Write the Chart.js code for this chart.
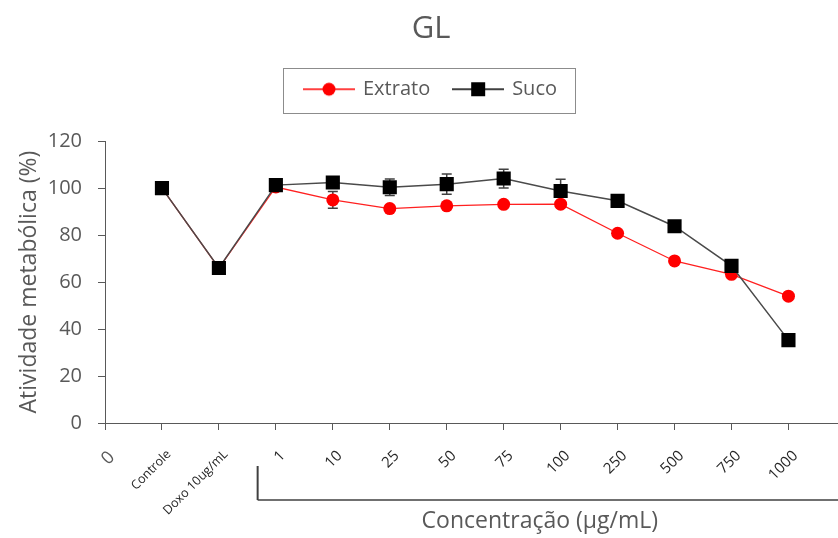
<!DOCTYPE html>
<html>
<head>
<meta charset="utf-8">
<script src="https://cdn.jsdelivr.net/npm/chart.js@4"></script>
<style>
  body { margin: 0; background: #fff; }
  #wrap { width: 838px; height: 538px; }
</style>
</head>
<body>
<div id="wrap"><canvas id="glChart" width="838" height="538"></canvas></div>
<script>
// categories on the x axis (position 1..12), position 0 is labelled "0"
var categories = ['Controle', 'Doxo 10ug/mL', '1', '10', '25', '50', '75', '100', '250', '500', '750', '1000'];
var extrato = [100, 66, 100.5, 95, 91.3, 92.5, 93.1, 93.2, 80.8, 69, 63.3, 54];
var extratoErr = [0, 0, 0, 3.6, 0, 0, 0, 0, 0, 0, 0, 0];
var suco = [100, 66, 101.3, 102.4, 100.4, 101.7, 104.1, 98.8, 94.6, 83.8, 66.9, 35.3];
var sucoErr = [0, 0, 0, 2, 3.5, 4.3, 4, 5, 0, 0, 0, 0];
var yTicks = [0, 20, 40, 60, 80, 100, 120];

var grey = '#595959';

function toPoints(vals) {
    var pts = [];
    for (var i = 0; i < vals.length; i++) {
        pts.push({x: i + 1, y: vals[i]});
    }
    return pts;
}

/** legend symbols: line with the marker in the middle **/
function legendSymbol(kind) {
    var c = document.createElement('canvas');
    c.width = 52; c.height = 16;
    var g = c.getContext('2d');
    g.strokeStyle = kind == 'circle' ? '#ff0000' : '#000000';
    g.lineWidth = 1.3;
    g.beginPath(); g.moveTo(0, 8); g.lineTo(52, 8); g.stroke();
    if (kind == 'circle') {
        g.fillStyle = '#ff0000';
        g.beginPath(); g.arc(26, 8, 6.5, 0, Math.PI * 2); g.fill();
    } else {
        g.fillStyle = '#000000';
        g.fillRect(19, 1, 14, 14);
    }
    return c;
}
var symbols = [legendSymbol('circle'), legendSymbol('rect')];
var errs = [extratoErr, sucoErr];

var extras = {
    id: 'extras',
    beforeDatasetsDraw: function(chart) {
        var ctx = chart.ctx;
        var ys = chart.scales.y;
        ctx.save();
        ctx.strokeStyle = '#404040';
        ctx.lineWidth = 1.5;
        for (var d = 0; d < chart.data.datasets.length; d++) {
            var meta = chart.getDatasetMeta(d);
            var vals = d == 0 ? extrato : suco;
            for (var i = 0; i < vals.length; i++) {
                var e = errs[d][i];
                if (!e) continue;
                var x = meta.data[i].x;
                var y1 = ys.getPixelForValue(vals[i] + e);
                var y2 = ys.getPixelForValue(vals[i] - e);
                ctx.beginPath();
                ctx.moveTo(x, y1); ctx.lineTo(x, y2);
                ctx.moveTo(x - 5, y1); ctx.lineTo(x + 5, y1);
                ctx.moveTo(x - 5, y2); ctx.lineTo(x + 5, y2);
                ctx.stroke();
            }
        }
        ctx.restore();
    },
    afterDraw: function(chart) {
        var ctx = chart.ctx;
        var xs = chart.scales.x;
        // box round the legend items
        var hb = chart.legend.legendHitBoxes;
        var l = 9999, r = 0, t = 9999, b = 0;
        hb.forEach(function(h) {
            l = Math.min(l, h.left); r = Math.max(r, h.left + h.width);
            t = Math.min(t, h.top); b = Math.max(b, h.top + h.height);
        });
        ctx.save();
        ctx.strokeStyle = '#8c8c8c';
        ctx.lineWidth = 1;
        ctx.strokeRect(Math.round(l - 22) + 0.5, Math.round(t - 11.5) + 0.5, Math.round(r - l + 40), Math.round(b - t + 25));
        // bracket under the concentrations
        var bx = xs.getPixelForValue(2.68);
        var top = xs.top;
        ctx.strokeStyle = '#404040';
        ctx.lineWidth = 2;
        ctx.beginPath(); ctx.moveTo(bx, top + 43); ctx.lineTo(bx, top + 77); ctx.stroke();
        ctx.lineWidth = 1.5;
        ctx.beginPath(); ctx.moveTo(bx, top + 77); ctx.lineTo(chart.chartArea.right, top + 77); ctx.stroke();
        // axis title centred under the bracket
        ctx.fillStyle = grey;
        ctx.font = '23px "Open Sans"';
        ctx.textAlign = 'center';
        ctx.textBaseline = 'middle';
        ctx.fillText('Concentração (µg/mL)', (bx + chart.chartArea.right) / 2 - 8, top + 98);
        ctx.restore();
    }
};

var ctx = document.getElementById('glChart').getContext('2d');
var chart = new Chart(ctx, {
    type: 'line',
    data: {
        datasets: [
            {
                label: 'Extrato',
                data: toPoints(extrato),
                borderColor: '#ff2020',
                borderWidth: 1.3,
                pointStyle: 'circle',
                pointRadius: 6.5,
                pointBackgroundColor: '#ff0000',
                pointBorderWidth: 0,
                order: 1
            },
            {
                label: 'Suco',
                data: toPoints(suco),
                borderColor: '#4a4a4a',
                borderWidth: 1.5,
                pointStyle: 'rect',
                pointRadius: 10,
                pointBackgroundColor: '#000000',
                pointBorderWidth: 0,
                order: 0
            }
        ]
    },
    options: {
        responsive: false,
        animation: false,
        layout: { autoPadding: false, padding: { left: 24, right: 0, top: 0, bottom: 0 } },
        plugins: {
            title: {
                display: true,
                text: 'GL',
                color: grey,
                font: { family: 'Open Sans', size: 31, weight: 'normal' },
                padding: { top: 11, bottom: 7 }
            },
            subtitle: {
                // empty spacer between legend and plot
                display: true,
                text: ' ',
                weight: 100,
                font: { size: 10 },
                padding: { top: 0, bottom: 20 }
            },
            legend: {
                position: 'top',
                labels: {
                    usePointStyle: true,
                    pointStyleWidth: 48,
                    padding: 24,
                    color: grey,
                    font: { family: 'Open Sans', size: 20 },
                    generateLabels: function(chart) {
                        return chart.data.datasets.map(function(ds, i) {
                            return { text: ds.label, pointStyle: symbols[i], fontColor: grey, datasetIndex: i, lineWidth: 0 };
                        });
                    }
                }
            },
            tooltip: { enabled: false }
        },
        scales: {
            x: {
                type: 'linear',
                min: 0,
                max: 12.87,
                afterBuildTicks: function(scale) {
                    var t = [{value: 0}];
                    categories.forEach(function(c, i) { t.push({value: i + 1}); });
                    scale.ticks = t;
                },
                afterFit: function(scale) {
                    scale.height = 115;
                },
                grid: { drawOnChartArea: false, drawTicks: true, tickLength: 7, color: grey },
                border: { color: grey, width: 1 },
                ticks: {
                    autoSkip: false,
                    minRotation: 45,
                    maxRotation: 45,
                    padding: 17,
                    labelOffset: 7,
                    color: function(c) { return c.tick && c.tick.value == 0 ? grey : '#262626'; },
                    font: function(c) {
                        var v = c.tick ? c.tick.value : 3;
                        return { family: 'Open Sans', size: (v == 1 || v == 2) ? 12.5 : (v == 0 ? 18 : 15) };
                    },
                    callback: function(v) { return v == 0 ? '0' : categories[v - 1]; }
                }
            },
            y: {
                min: 0,
                max: 120,
                afterBuildTicks: function(scale) {
                    scale.ticks = yTicks.map(function(v) { return {value: v}; });
                },
                afterFit: function(scale) { scale.width = 81; },
                grid: { drawOnChartArea: false, drawTicks: true, tickLength: 7, color: grey },
                border: { color: grey, width: 1 },
                ticks: { color: grey, padding: 16, font: { family: 'Open Sans', size: 20 } },
                title: {
                    display: true,
                    text: 'Atividade metabólica (%)',
                    color: grey,
                    font: { family: 'Open Sans', size: 23 },
                    padding: { top: -8, bottom: 0 }
                }
            }
        }
    },
    plugins: [extras]
});
</script>
</body>
</html>
